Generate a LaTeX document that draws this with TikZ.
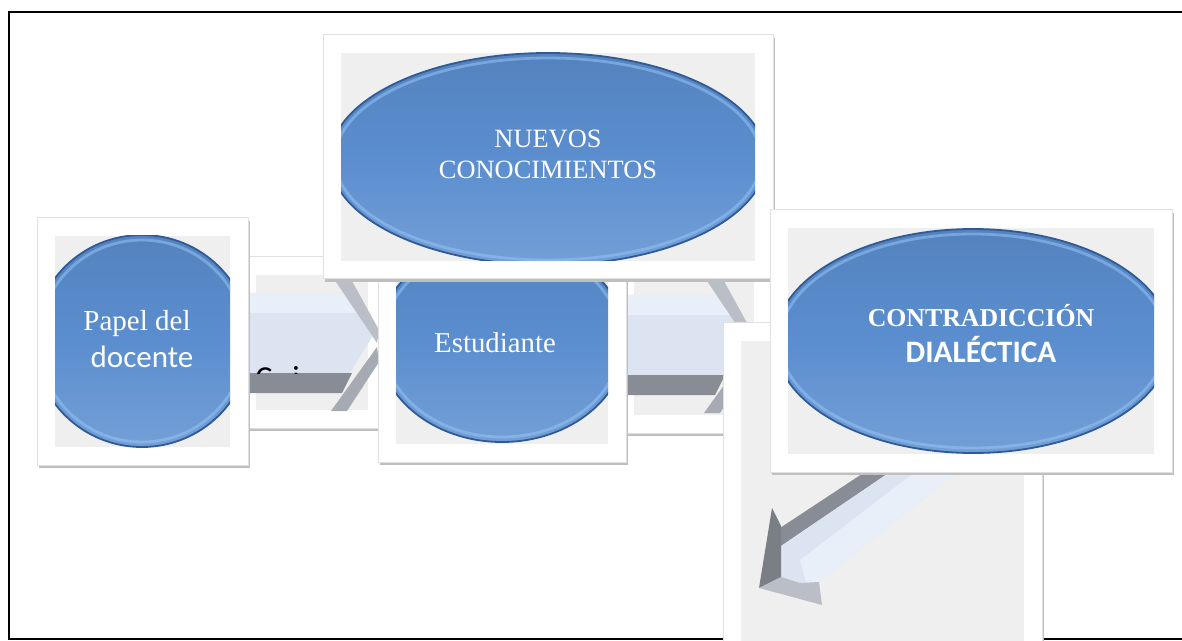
\documentclass[tikz,border=0pt]{standalone}
\usepackage{fontspec}
\setmainfont{Liberation Serif}
\newfontfamily\calfont{Carlito}

\definecolor{ovalblue}{RGB}{91,142,207}
\definecolor{ovalrim}{RGB}{48,90,150}
\definecolor{ovallight}{RGB}{150,196,245}
\definecolor{panelgrey}{RGB}{239,239,239}
\definecolor{facelight}{RGB}{220,228,242}
\definecolor{facetop}{RGB}{233,239,249}
\definecolor{facedark}{RGB}{136,140,148}
\definecolor{facemid}{RGB}{166,170,178}
\definecolor{facepale}{RGB}{186,190,198}

\tikzset{
  card/.style={fill=white, draw=black!12, line width=0.5pt},
  cardshadow/.style={fill=black!25},
  panel/.style={fill=panelgrey},
  ovalshade/.style={top color=ovalblue!92!black, bottom color=ovalblue!85!white, middle color=ovalblue},
  ovalglow/.style={draw=ovallight, line width=1.4pt, opacity=0.55},
  ovalrim/.style={draw=ovalrim, line width=0.9pt},
  ovaltext/.style={text=white, inner sep=0pt, anchor=base},
  fragtext/.style={inner sep=0pt, anchor=base west, font=\calfont\fontsize{16}{19}\selectfont},
}

% card: shadow, white frame, grey panel
\newcommand{\drawcard}[4]{%
  \fill[cardshadow] (#1+2,#2+3) rectangle (#3+2,#4+3);
  \draw[card] (#1,#2) rectangle (#3,#4);
  \fill[panel] (#1+18,#2+18) rectangle (#3-18,#4-18);}

% oval clipped to its panel: x1 y1 x2 y2 cx cy rx ry
\newcommand{\drawoval}[8]{%
  \begin{scope}
    \clip (#1,#2) rectangle (#3,#4);
    \shade[ovalshade] (#5,#6) ellipse [x radius=#7, y radius=#8];
    \draw[ovalglow] (#5,#6) ellipse [x radius=#7-5, y radius=#8-5];
    \draw[ovalrim] (#5,#6) ellipse [x radius=#7, y radius=#8];
  \end{scope}}

% 3d arrow pointing right, tip at #1,#2
\newcommand{\chevronarrow}[2]{%
  \begin{scope}[shift={(#1,#2)}]
    \fill[facelight] (-137,-48) -- (-21,-48) -- (-5,-4) -- (-27,32) -- (-137,32) -- cycle;
    \fill[facetop] (-137,-48) -- (-21,-48) -- (-14,-28) -- (-137,-28) -- cycle;
    \fill[facepale] (-49,-71) -- (-31,-71) -- (2,-11) -- (0,2) -- cycle;
    \fill[facemid] (0,6) -- (2,21) -- (-30,70) -- (-46,70) -- cycle;
    \fill[facedark] (-137,32) -- (-25,32) -- (-35,52) -- (-137,52) -- cycle;
  \end{scope}}

\begin{document}
\begin{tikzpicture}[x=0.5pt,y=0.5pt,yscale=-1]
\clip (0,0) rectangle (1182,641);
\fill[white] (0,0) rectangle (1182,641);

%Outer frame
\draw[line width=1.2pt] (9,12) rectangle (1200,639);

%Frames behind the arrows
\drawcard{238}{257}{386}{428}
\drawcard{616}{263}{772}{433}

%Arrows
\chevronarrow{377}{341}
\chevronarrow{750}{343}

%Cut text on the first arrow
\begin{scope}
  \clip (245,355) rectangle (345,373);
  \node[fragtext] (frag) at (255,388) {C\hspace{10pt}i};
\end{scope}

%Box behind, bottom right
\drawcard{723}{323}{1042}{660}

%Arrow pointing down left
\fill[facedark] (780,528) -- (865,472) -- (890,472) -- (781,546) -- cycle;
\fill[facelight] (781,546) -- (890,472) -- (957,472) -- (819,582) -- (800,583) -- (781,577) -- cycle;
\fill[facetop] (800,560) -- (915,472) -- (957,472) -- (819,582) -- (806,582) -- cycle;
\fill[facedark!90!black] (772,508) -- (781,526) -- (781,577) -- (759,588) -- cycle;
\fill[facepale] (759,588) -- (781,577) -- (800,583) -- (819,582) -- (822,605) -- cycle;

%Box: Papel del docente
\drawcard{37}{218}{248}{465}
\drawoval{55}{236}{230}{447}{142}{341}{108}{106}
\node[ovaltext, font=\fontsize{14.5}{17}\selectfont] (papel) at (137,330) {Papel del};
\node[ovaltext, font=\calfont\fontsize{15.5}{18}\selectfont] (docente) at (142,367) {docente};

%Box: Estudiante
\drawcard{378}{248}{626}{462}
\drawoval{396}{266}{608}{444}{502}{341}{124}{101}
\node[ovaltext, font=\fontsize{14.4}{17}\selectfont] (estud) at (495,352) {Estudiante};

%Box: Nuevos conocimientos
\drawcard{323}{35}{773}{279}
\drawoval{341}{53}{755}{261}{548}{159}{218}{106}
\node[ovaltext, font=\fontsize{13.2}{16}\selectfont] (nuevos) at (548,148) {NUEVOS};
\node[ovaltext, font=\fontsize{13.2}{16}\selectfont] (conoc) at (548,179) {CONOCIMIENTOS};

%Box: Contradiccion dialectica
\drawcard{770}{210}{1172}{472}
\drawoval{788}{228}{1154}{454}{973}{341}{198}{112}
\node[ovaltext, font=\bfseries\fontsize{12.9}{16}\selectfont] (contra) at (981,327) {CONTRADICCIÓN};
\node[ovaltext, font=\calfont\bfseries\fontsize{15.6}{18}\selectfont] (dialec) at (981,363) {DIALÉCTICA};

\end{tikzpicture}
\end{document}
